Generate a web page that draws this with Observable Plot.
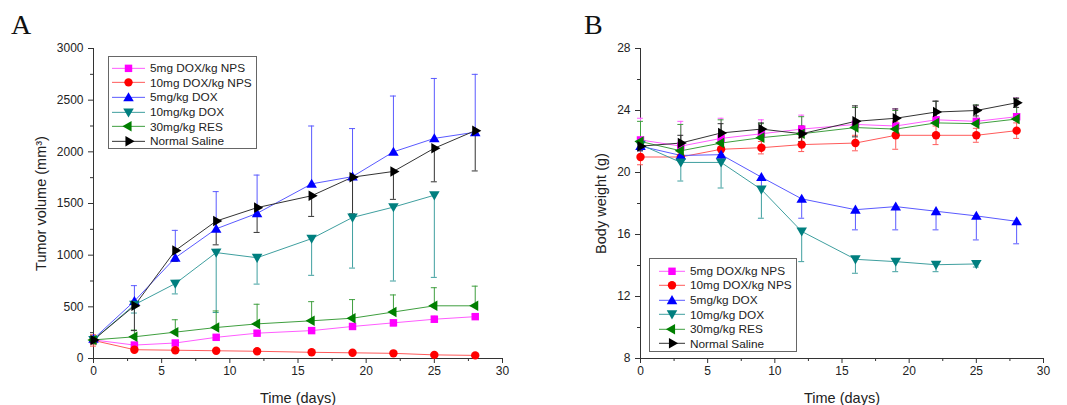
<!DOCTYPE html>
<html><head><meta charset="utf-8">
<script src="https://cdn.jsdelivr.net/npm/d3@7"></script>
<script src="https://cdn.jsdelivr.net/npm/@observablehq/plot@0.6"></script>
<style>
body{margin:0;background:#fff;font-family:"Liberation Sans",Arial,sans-serif;}
#wrap{position:relative;width:1067px;height:405px;display:flex;overflow:hidden;}
.letter{position:absolute;font-family:"Liberation Serif","Times New Roman",serif;font-size:28px;line-height:28px;color:#111;}
.legend{position:absolute;border:1px solid #666;background:#fff;font-size:11.8px;color:#222;box-sizing:border-box;}
.legend .row{display:flex;align-items:center;white-space:nowrap;}
</style></head>
<body><div id="wrap"></div>
<script>
// ---- data ----
const days = [0, 3, 6, 9, 12, 16, 19, 22, 25, 28];
const seriesNames = ["5mg DOX/kg NPS", "10mg DOX/kg NPS", "5mg/kg DOX", "10mg/kg DOX", "30mg/kg RES", "Normal Saline"];
const xTicks = [0, 5, 10, 15, 20, 25, 30];

// Panel A: tumor volume (mm^3)
const volNPS5   = [180, 130, 150, 205, 245, 270, 310, 345, 380, 405];
const volNPS10  = [175, 85, 80, 75, 70, 60, 55, 50, 35, 30];
const volDOX5   = [190, 555, 975, 1255, 1405, 1690, 1760, 2000, 2130, 2190];
const volDOX10  = [180, 520, 725, 1025, 975, 1160, 1365, 1465, 1580];
const volRES    = [180, 210, 255, 300, 335, 365, 390, 450, 510, 510];
const volSaline = [180, 510, 1045, 1330, 1460, 1575, 1755, 1810, 2035, 2205];
const errVolNPS5   = [20, 25, 25, 20, 20, 25, 25, 30, 30, 20];
const errVolNPS10  = [55, 15, 10, 10, 10, 10, 10, 10, 10, 10];
const errVolDOX5   = [0, 150, 265, 360, 370, 560, 465, 540, 580, 560];
const errVolDOX10  = [0, 80, 100, 580, 255, 355, 490, 715, 795];
const errVolRES    = [0, 65, 120, 160, 190, 185, 180, 165, 175, 190];
const errVolSaline = [0, 240, 105, 230, 240, 200, 355, 270, 325, 390];
const errDirA = ["both", "both", "up", "down", "up", "down"];
const yTicksA = [0, 500, 1000, 1500, 2000, 2500, 3000];

// Panel B: body weight (g)
const wNPS5   = [22.1, 21.7, 22.2, 22.5, 22.8, 23.1, 23.0, 23.4, 23.3, 23.6];
const wNPS10  = [21.0, 21.0, 21.5, 21.6, 21.8, 21.9, 22.4, 22.4, 22.4, 22.7];
const wDOX5   = [21.7, 21.1, 21.15, 19.7, 18.3, 17.6, 17.8, 17.5, 17.2, 16.85];
const wDOX10  = [21.8, 20.65, 20.65, 18.9, 16.2, 14.4, 14.25, 14.05, 14.1];
const wRES    = [22.0, 21.4, 21.9, 22.25, 22.5, 22.9, 22.8, 23.2, 23.15, 23.45];
const wSaline = [21.7, 21.9, 22.55, 22.8, 22.5, 23.3, 23.5, 23.9, 24.0, 24.5];
const errWNPS5   = [1.4, 1.6, 1.3, 0.9, 0.9, 1.1, 1.1, 1.2, 1.0, 1.2];
const errWNPS10  = [0.5, 0.3, 0.35, 0.4, 0.45, 0.5, 0.9, 0.6, 0.45, 0.5];
const errWDOX5   = [0.3, 0.3, 0.4, 0.6, 1.25, 1.3, 1.5, 1.2, 1.55, 1.45];
const errWDOX10  = [0.3, 1.2, 1.65, 1.85, 1.95, 0.9, 0.65, 0.45, 0.2];
const errWRES    = [1.3, 1.7, 1.5, 0.9, 1.1, 1.3, 1.2, 1.4, 1.2, 1.3];
const errWSaline = [0.3, 0.5, 0.6, 0.4, 0.5, 1.0, 0.6, 0.7, 0.35, 0.3];
const errDirB = ["up", "both", "down", "down", "up", "both"];
const yTicksB = [8, 12, 16, 20, 24, 28];

// ---- styles ----
const markerColors = ["#ff00ff", "#ff0000", "#0000ff", "#007f7f", "#007f00", "#000000"];
const lineColors   = ["#ff5cff", "#ff5a5a", "#5a5aff", "#3f9f9f", "#3f9f3f", "#333333"];
function tri(angle) {
  return {draw(ctx, size) {
    const R = Math.sqrt(size / Math.PI) * 1.45;
    for (let k = 0; k < 3; k++) {
      const a = angle + k * 2 * Math.PI / 3;
      const x = R * Math.sin(a), y = -R * Math.cos(a) + (angle === 0 ? R * 0.15 : angle === Math.PI ? -R * 0.15 : 0);
      k ? ctx.lineTo(x, y) : ctx.moveTo(x, y);
    }
    ctx.closePath();
  }};
}
const symbols = [d3.symbolSquare, d3.symbolCircle, tri(0), tri(Math.PI), tri(-Math.PI / 2), tri(Math.PI / 2)];

function buildRows(values, errs, dirs) {
  return seriesNames.map((s, i) => values[i].map((v, j) => {
    const e = errs[i][j];
    return {series: s, i, day: days[j], v,
      lo: dirs[i] === "up" ? v : v - e,
      hi: dirs[i] === "down" ? v : v + e, e};
  }));
}

function panel({values, errs, dirs, yDomain, yTicks, yMinorStep, yLabel, width, marginLeft, marginRight, yLabelOffset}) {
  const rows = buildRows(values, errs, dirs);
  const flat = rows.flat().filter(d => d.e > 0);
  const caps = flat.flatMap(d => {
    const out = [];
    if (d.hi > d.v) out.push({i: d.i, day: d.day, y: d.hi});
    if (d.lo < d.v) out.push({i: d.i, day: d.day, y: d.lo});
    return out;
  });
  const yMinor = d3.range(yDomain[0] + yMinorStep, yDomain[1], yMinorStep * 2);
  const marks = [
    Plot.axisX({ticks: xTicks, tickSize: 5, tickPadding: 3, stroke: "#333", fill: "#222", tickFormat: d3.format("d"), label: null}),
    Plot.axisX({ticks: [], tickSize: 0, fontSize: 14.5, fill: "#222",
      label: "Time (days)", labelAnchor: "center", labelArrow: "none", labelOffset: 44}),
    Plot.axisX({ticks: d3.range(2.5, 30, 5), tickSize: 3, tickFormat: () => "", stroke: "#333", label: null}),
    Plot.axisY({ticks: yTicks, tickSize: 5, tickPadding: 5, stroke: "#333", fill: "#222", tickFormat: d3.format("d"), label: null}),
    Plot.axisY({ticks: [], tickSize: 0, fontSize: 14.5, fill: "#222",
      label: yLabel, labelAnchor: "center", labelArrow: "none", labelOffset: yLabelOffset}),
    Plot.axisY({ticks: yMinor, tickSize: 3, tickFormat: () => "", stroke: "#333", label: null}),
    Plot.ruleX([0], {stroke: "#333"}),
    Plot.ruleY([yDomain[0]], {stroke: "#333"})
  ];
  seriesNames.forEach((s, i) => {
    const r = rows[i];
    marks.push(
      Plot.ruleX(flat.filter(d => d.i === i), {x: "day", y1: "lo", y2: "hi", stroke: lineColors[i], strokeWidth: 1}),
      Plot.ruleY(caps.filter(d => d.i === i), {y: "y", x1: d => d.day - 0.22, x2: d => d.day + 0.22, stroke: lineColors[i], strokeWidth: 1}),
      Plot.line(r, {x: "day", y: "v", stroke: lineColors[i], strokeWidth: 1})
    );
  });
  seriesNames.forEach((s, i) => {
    marks.push(Plot.dot(rows[i], {x: "day", y: "v", symbol: symbols[i], r: 4.2, fill: markerColors[i], stroke: "none"}));
  });
  return Plot.plot({
    width, height: 405, marginLeft, marginRight, marginTop: 48, marginBottom: 47,
    style: {fontFamily: "'Liberation Sans', Arial, sans-serif", fontSize: "12px", color: "#222", background: "white", overflow: "visible"},
    x: {domain: [0, 30]},
    y: {domain: yDomain},
    marks
  });
}

function legend({left, top, width, height, padTop, padLeft, rowH, swatch, gap}) {
  const div = document.createElement("div");
  div.className = "legend";
  Object.assign(div.style, {left: left + "px", top: top + "px", width: width + "px", height: height + "px", paddingTop: padTop + "px", paddingLeft: padLeft + "px"});
  seriesNames.forEach((s, i) => {
    const row = document.createElement("div");
    row.className = "row";
    row.style.height = rowH + "px";
    const svg = d3.create("svg").attr("width", swatch).attr("height", rowH).style("margin-right", gap + "px").style("flex", "none");
    svg.append("line").attr("x1", 0).attr("x2", swatch).attr("y1", rowH / 2).attr("y2", rowH / 2).attr("stroke", lineColors[i]).attr("stroke-width", 1);
    svg.append("path").attr("d", d3.symbol(symbols[i], Math.PI * 4.2 * 4.2)()).attr("transform", `translate(${swatch / 2},${rowH / 2})`).attr("fill", markerColors[i]);
    row.appendChild(svg.node());
    const t = document.createElement("span");
    t.textContent = s;
    row.appendChild(t);
    div.appendChild(row);
  });
  return div;
}

const wrap = document.getElementById("wrap");
wrap.appendChild(panel({
  values: [volNPS5, volNPS10, volDOX5, volDOX10, volRES, volSaline],
  errs: [errVolNPS5, errVolNPS10, errVolDOX5, errVolDOX10, errVolRES, errVolSaline],
  dirs: errDirA, yDomain: [0, 3000], yTicks: yTicksA, yMinorStep: 250,
  yLabel: "Tumor volume (mm³)", width: 533, marginLeft: 93, marginRight: 31, yLabelOffset: 58
}));
wrap.appendChild(panel({
  values: [wNPS5, wNPS10, wDOX5, wDOX10, wRES, wSaline],
  errs: [errWNPS5, errWNPS10, errWDOX5, errWDOX10, errWRES, errWSaline],
  dirs: errDirB, yDomain: [8, 28], yTicks: yTicksB, yMinorStep: 2,
  yLabel: "Body weight (g)", width: 534, marginLeft: 107, marginRight: 24, yLabelOffset: 45
}));
const la = document.createElement("div"); la.className = "letter"; la.textContent = "A";
Object.assign(la.style, {left: "11px", top: "11px"}); wrap.appendChild(la);
const lb = document.createElement("div"); lb.className = "letter"; lb.textContent = "B";
Object.assign(lb.style, {left: "584px", top: "11px"}); wrap.appendChild(lb);
wrap.appendChild(legend({left: 108, top: 56, width: 149, height: 93, padTop: 3.6, padLeft: 3, rowH: 14.7, swatch: 33, gap: 5}));
wrap.appendChild(legend({left: 649, top: 258, width: 148, height: 94, padTop: 4.5, padLeft: 9, rowH: 14.6, swatch: 26, gap: 5}));
</script></body></html>
